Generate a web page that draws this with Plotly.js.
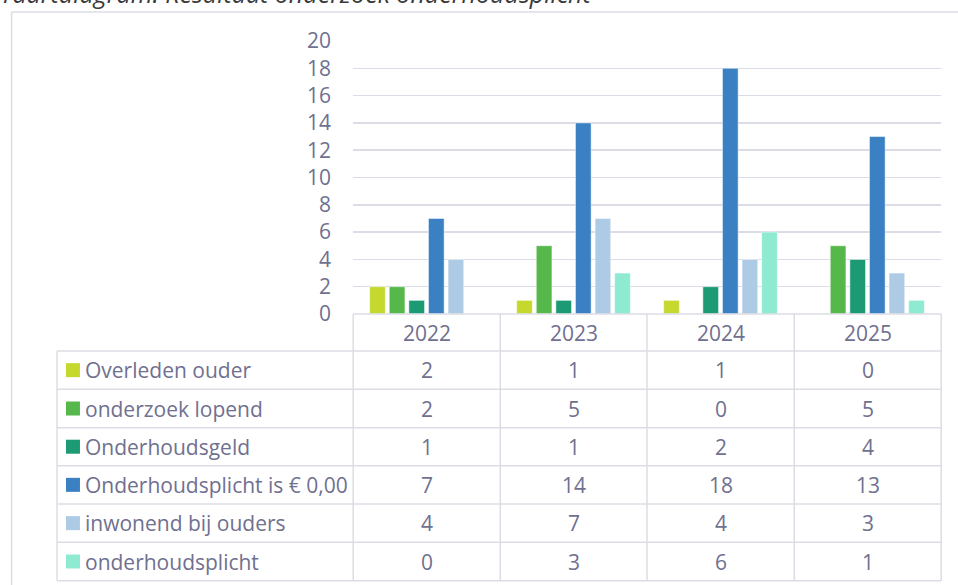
<!DOCTYPE html>
<html>
<head>
<meta charset="utf-8">
<script src="https://cdn.plot.ly/plotly-3.0.1.min.js"></script>
<style>html,body{margin:0;padding:0;background:#fff;}#chart{width:958px;height:585px;}</style>
</head>
<body>
<div id="chart"></div>
<script>
// ---- data ----
var years = ['2022', '2023', '2024', '2025'];
var seriesNames = ['Overleden ouder', 'onderzoek lopend', 'Onderhoudsgeld', 'Onderhoudsplicht is € 0,00', 'inwonend bij ouders', 'onderhoudsplicht'];
var overledenOuder = [2, 1, 1, 0];
var onderzoekLopend = [2, 5, 0, 5];
var onderhoudsgeld = [1, 1, 2, 4];
var onderhoudsplichtNul = [7, 14, 18, 13];
var inwonendBijOuders = [4, 7, 4, 3];
var onderhoudsplicht = [0, 3, 6, 1];
var seriesValues = [overledenOuder, onderzoekLopend, onderhoudsgeld, onderhoudsplichtNul, inwonendBijOuders, onderhoudsplicht];
var yTicks = [0, 2, 4, 6, 8, 10, 12, 14, 16, 18, 20];
var titleText = 'Taartdiagram: Resultaat onderzoek onderhoudsplicht';

// ---- style ----
var colors = ['#c4d82e', '#56b84a', '#1b9a74', '#3a80c2', '#aecbe6', '#8eead0'];
var textColor = '#70708f';
var lineColor = '#dcdce6';
var FONT = '"Open Sans", "Noto Sans", sans-serif';
var FS = 21;

// plot area in pixels
var L = 352.5, R = 16.5, T = 41, B = 271;
var W = 958 - L - R, H = 585 - T - B;
function px(x) { return (x - L) / W; }
function py(y) { return (585 - B - y) / H; }

var traces = seriesNames.map(function (name, i) {
  return {
    type: 'bar', name: name, x: years, y: seriesValues[i],
    marker: { color: colors[i], line: { color: '#ffffff', width: 0.5 } },
    hoverinfo: 'x+y+name'
  };
});

var shapes = [];
var annotations = [];
function hline(y, x0, x1, w, c) {
  shapes.push({ type: 'line', xref: 'paper', yref: 'paper', x0: px(x0), x1: px(x1), y0: py(y), y1: py(y), line: { color: c || lineColor, width: w || 1.5 } });
}
function vline(x, y0, y1, w, c) {
  shapes.push({ type: 'line', xref: 'paper', yref: 'paper', x0: px(x), x1: px(x), y0: py(y0), y1: py(y1), line: { color: c || lineColor, width: w || 1.5 } });
}

// outer chart frame
hline(12, 10.5, 1000);
vline(10.5, 12, 700);

// table geometry
var colEdges = [352.7, 500, 647, 794.5, 941.7];
var headerTop = 314, headerBottom = 351;
var rowEdges = [351, 389.3, 427.7, 465.7, 504, 542.3, 580.7];
var labelLeft = 56;

hline(headerTop, colEdges[0], colEdges[4]);
rowEdges.forEach(function (y) { hline(y, labelLeft, colEdges[4]); });
vline(labelLeft, rowEdges[0], rowEdges[rowEdges.length - 1]);
colEdges.forEach(function (x) { vline(x, headerTop, rowEdges[rowEdges.length - 1]); });

// header: years
years.forEach(function (yr, j) {
  annotations.push({
    xref: 'paper', yref: 'paper', x: px((colEdges[j] + colEdges[j + 1]) / 2), y: py((headerTop + headerBottom) / 2),
    text: yr, showarrow: false, xanchor: 'center', yanchor: 'middle',
    font: { family: FONT, size: FS, color: textColor }
  });
});

// rows: legend key + name + values
seriesNames.forEach(function (name, i) {
  var yc = (rowEdges[i] + rowEdges[i + 1]) / 2;
  shapes.push({
    type: 'rect', xref: 'paper', yref: 'paper',
    x0: px(65), x1: px(79), y0: py(yc - 7), y1: py(yc + 7),
    fillcolor: colors[i], line: { width: 0 }
  });
  annotations.push({
    xref: 'paper', yref: 'paper', x: px(82), y: py(yc),
    text: name, showarrow: false, xanchor: 'left', yanchor: 'middle',
    font: { family: FONT, size: FS, color: textColor }
  });
  seriesValues[i].forEach(function (v, j) {
    annotations.push({
      xref: 'paper', yref: 'paper', x: px((colEdges[j] + colEdges[j + 1]) / 2), y: py(yc),
      text: String(v), showarrow: false, xanchor: 'center', yanchor: 'middle',
      font: { family: FONT, size: FS, color: textColor }
    });
  });
});

// title (cut at the top of the picture, as in the reference)
annotations.push({
  xref: 'paper', yref: 'paper', x: px(-3), y: py(12),
  text: '<i>' + titleText + '</i>', showarrow: false, xanchor: 'left', yanchor: 'bottom',
  font: { family: FONT, size: 25, color: '#3a3a3a' }
});

var layout = {
  width: 958, height: 585,
  margin: { l: L, r: R, t: T, b: B, pad: 0 },
  paper_bgcolor: '#ffffff', plot_bgcolor: '#ffffff',
  showlegend: false,
  barmode: 'group', bargap: 0.2, bargroupgap: 0.2,
  xaxis: {
    type: 'category', range: [-0.5, 3.5], showticklabels: false,
    showgrid: false, zeroline: false, showline: false, ticks: ''
  },
  yaxis: {
    range: [0, 20], tickvals: yTicks, ticktext: yTicks.map(String),
    showgrid: true, gridcolor: lineColor, gridwidth: 1.5,
    zeroline: false, showline: false, ticks: '',
    ticklabelstandoff: 21,
    tickfont: { family: FONT, size: FS, color: textColor }
  },
  shapes: shapes,
  annotations: annotations,
  font: { family: FONT }
};

Plotly.newPlot('chart', traces, layout, { displayModeBar: false, staticPlot: true });
</script>
</body>
</html>
